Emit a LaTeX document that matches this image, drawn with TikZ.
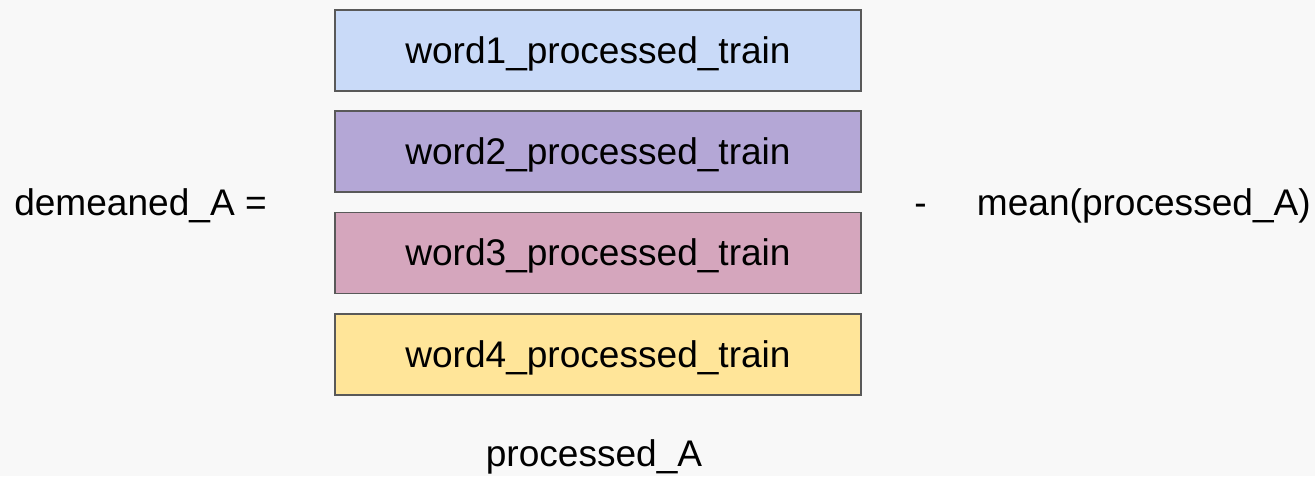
\documentclass[tikz,border=0pt]{standalone}
\usepackage{fontspec}
\setmainfont{Liberation Sans}
\definecolor{bg}{HTML}{F8F8F8}
\definecolor{c1}{HTML}{C9DAF8}
\definecolor{c2}{HTML}{B4A7D6}
\definecolor{c3}{HTML}{D5A6BD}
\definecolor{c4}{HTML}{FFE599}
\definecolor{edge}{HTML}{595959}
\begin{document}
\begin{tikzpicture}[x=0.75pt,y=-0.75pt,
  rowbox/.style={draw=edge,line width=1.1pt,minimum width=526*0.75pt,minimum height=81*0.75pt,inner sep=0pt},
  lbl/.style={inner sep=0pt,font=\fontsize{27.8}{32}\selectfont}]
\fill[bg] (0,0) rectangle (1315,476);
\useasboundingbox (0,0) rectangle (1315,476);
\node[rowbox,fill=c1] (w1) at (598,50.5) {};
\node[rowbox,fill=c2] (w2) at (598,151.5) {};
\node[rowbox,fill=c3] (w3) at (598,253) {};
\node[rowbox,fill=c4] (w4) at (598,354.5) {};
\node[lbl,anchor=base] (t1) at ([yshift=-12.5*0.75pt]w1.center) {word1\_processed\_train};
\node[lbl,anchor=base] (t2) at ([yshift=-12.5*0.75pt]w2.center) {word2\_processed\_train};
\node[lbl,anchor=base] (t3) at ([yshift=-12.5*0.75pt]w3.center) {word3\_processed\_train};
\node[lbl,anchor=base] (t4) at ([yshift=-12.5*0.75pt]w4.center) {word4\_processed\_train};
\node[lbl,anchor=base west] (lhs) at (14,215) {demeaned\_A =};
\node[lbl,anchor=base west] (minus) at (914,215) {-};
\node[lbl,anchor=base east] (mean) at (1311,215) {mean(processed\_A)};
\node[lbl,anchor=base] (pa) at (594,466) {processed\_A};
\end{tikzpicture}
\end{document}
